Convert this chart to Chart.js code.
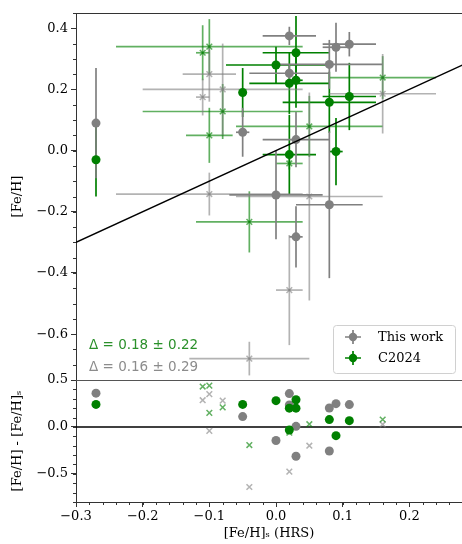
<!DOCTYPE html>
<html>
<head>
<meta charset="utf-8">
<script src="https://cdn.jsdelivr.net/npm/chart.js@4.4.1/dist/chart.umd.min.js"></script>
<style>
  html, body { margin: 0; padding: 0; background: #fff; }
  #wrap { position: relative; width: 462px; height: 544px; }
  canvas { position: absolute; left: 0; top: 0; }
</style>
</head>
<body>
<div id="wrap">
  <canvas id="mainChart" width="462" height="544"></canvas>
  <canvas id="resChart" width="462" height="544"></canvas>
</div>
<script>
// tick labels
const xTickVals = [-0.3, -0.2, -0.1, 0.0, 0.1, 0.2];
const yMainTickVals = [0.4, 0.2, 0.0, -0.2, -0.4, -0.6];
const yResTickVals = [0.5, 0.0, -0.5];

// This work, filled circles
const workX    = [-0.27, -0.05, 0.00, 0.02, 0.02, 0.03, 0.03, 0.08, 0.08, 0.09, 0.11];
const workY    = [0.09, 0.06, -0.145, 0.375, 0.253, 0.036, -0.282, 0.282, -0.177, 0.338, 0.348];
const workXerr = [0, 0.01, 0.07, 0.04, 0.06, 0.05, 0.01, 0.08, 0.05, 0.02, 0.04];
const workYerr = [0.18, 0.08, 0.145, 0.03, 0.03, 0.09, 0.10, 0.08, 0.24, 0.08, 0.04];

// C2024, filled circles
const c24X    = [-0.27, -0.05, 0.00, 0.03, 0.02, 0.03, 0.08, 0.11, 0.09, 0.02];
const c24Y    = [-0.03, 0.19, 0.28, 0.32, 0.22, 0.23, 0.158, 0.177, -0.003, -0.013];
const c24Xerr = [0, 0.005, 0.075, 0.05, 0.06, 0.01, 0.07, 0.04, 0.01, 0.04];
const c24Yerr = [0.12, 0.08, 0.06, 0.12, 0.10, 0.09, 0.10, 0.11, 0.11, 0.13];

// This work, crosses (faint)
const workAltX    = [-0.10, -0.08, -0.11, -0.10, -0.04, 0.05, 0.02, 0.16];
const workAltY    = [0.25, 0.20, 0.175, -0.142, -0.68, -0.15, -0.456, 0.186];
const workAltXerr = [0.04, 0.12, 0.01, 0.14, 0.09, 0.11, 0.02, 0.08];
const workAltYerr = [0.09, 0.15, 0.06, 0.07, 0.055, 0.34, 0.18, 0.13];

// C2024, crosses (faint)
const c24AltX    = [-0.11, -0.10, -0.08, -0.10, -0.04, 0.16, 0.05, 0.02];
const c24AltY    = [0.32, 0.34, 0.128, 0.05, -0.233, 0.239, 0.079, -0.042];
const c24AltXerr = [0.01, 0.14, 0.12, 0.035, 0.08, 0.08, 0.11, 0.02];
const c24AltYerr = [0.09, 0.09, 0.09, 0.09, 0.10, 0.07, 0.10, 0.02];

const deltaC24 = "\u0394 = 0.18 \u00b1 0.22";
const deltaWork = "\u0394 = 0.16 \u00b1 0.29";
const legendNames = ["This work", "C2024"];

const X_MIN = -0.3, X_MAX = 0.279;

const gray = "#808080";
const green = "#008000";
const grayLight = "rgba(128,128,128,0.6)";
const greenLight = "rgba(0,128,0,0.62)";
const axisColor = "#333";

Chart.defaults.font.family = "'DejaVu Serif', serif";
Chart.defaults.font.size = 13;
Chart.defaults.color = "#000";

function fmt(v) {
    const s = Math.abs(v).toFixed(1);
    return (v < -1e-9 ? "\u2212" : "") + s;
}

function points(xs, ys) {
    return xs.map((x, i) => ({ x: x, y: ys[i] }));
}

function segment(data, color) {
    return {
        data: data,
        showLine: true,
        borderColor: color,
        borderWidth: 1.7,
        pointRadius: 0,
        order: 10
    };
}

function errorBars(xs, ys, xe, ye, color) {
    const sets = [];
    xs.forEach((x, i) => {
        if (xe[i] > 0) sets.push(segment([{ x: x - xe[i], y: ys[i] }, { x: x + xe[i], y: ys[i] }], color));
        if (ye[i] > 0) sets.push(segment([{ x: x, y: ys[i] - ye[i] }, { x: x, y: ys[i] + ye[i] }], color));
    });
    return sets;
}

function markers(xs, ys, style, color, order) {
    const round = style === "circle";
    return {
        data: points(xs, ys),
        pointStyle: style,
        pointRadius: round ? 4.5 : 4,
        backgroundColor: color,
        borderColor: color,
        borderWidth: round ? 0 : 1.5,
        showLine: false,
        order: order
    };
}

// minor tick marks along an axis
function minorTicks(chart, id, step, len) {
    const scale = chart.scales[id];
    const ctx = chart.ctx;
    const a = chart.chartArea;
    ctx.save();
    ctx.strokeStyle = axisColor;
    ctx.lineWidth = 1;
    const n = Math.round((scale.max - scale.min) / step) + 1;
    const start = Math.ceil(scale.min / step - 1e-6);
    for (let i = start; i < start + n; i++) {
        const v = i * step;
        if (v < scale.min - 1e-9 || v > scale.max + 1e-9) continue;
        const p = Math.round(scale.getPixelForValue(v)) + 0.5;
        ctx.beginPath();
        if (scale.isHorizontal()) {
            ctx.moveTo(p, a.bottom);
            ctx.lineTo(p, a.bottom + len);
        } else {
            ctx.moveTo(a.left, p);
            ctx.lineTo(a.left - len, p);
        }
        ctx.stroke();
    }
    ctx.restore();
}

function hLine(ctx, x1, x2, y) {
    ctx.beginPath();
    ctx.moveTo(x1, Math.round(y) + 0.5);
    ctx.lineTo(x2, Math.round(y) + 0.5);
    ctx.stroke();
}

const mainDecor = {
    id: "mainDecor",
    afterDraw(chart) {
        const ctx = chart.ctx;
        const a = chart.chartArea;
        minorTicks(chart, "y", 0.05, 3);
        ctx.save();
        ctx.strokeStyle = axisColor;
        ctx.lineWidth = 1;
        hLine(ctx, a.left, a.right, a.top);

        // delta annotations
        ctx.font = "13.5px 'DejaVu Sans'";
        ctx.textBaseline = "middle";
        ctx.textAlign = "left";
        ctx.fillStyle = "#2a902a";
        ctx.fillText(deltaC24, 89, 345);
        ctx.fillStyle = "#8c8c8c";
        ctx.fillText(deltaWork, 89, 367);

        // legend box
        const bx = 333, by = 325, bw = 122, bh = 48;
        ctx.fillStyle = "rgba(255,255,255,0.85)";
        ctx.strokeStyle = "#d0d0d0";
        ctx.beginPath();
        ctx.roundRect(bx + 0.5, by + 0.5, bw, bh, 3);
        ctx.fill();
        ctx.stroke();
        const cols = [gray, green];
        legendNames.forEach((name, i) => {
            const cy = by + 12 + i * 21;
            const cx = bx + 20;
            ctx.strokeStyle = cols[i];
            ctx.fillStyle = cols[i];
            ctx.lineWidth = 1.7;
            ctx.beginPath();
            ctx.moveTo(cx - 8, cy); ctx.lineTo(cx + 8, cy);
            ctx.moveTo(cx, cy - 7); ctx.lineTo(cx, cy + 7);
            ctx.stroke();
            ctx.beginPath();
            ctx.arc(cx, cy, 4.2, 0, Math.PI * 2);
            ctx.fill();
            ctx.fillStyle = "#000";
            ctx.font = "13px 'DejaVu Serif'";
            ctx.fillText(name, bx + 45, cy + 1);
        });
        ctx.restore();
    }
};

const resDecor = {
    id: "resDecor",
    afterDraw(chart) {
        const ctx = chart.ctx;
        const a = chart.chartArea;
        minorTicks(chart, "y", 0.1, 3);
        minorTicks(chart, "x", 0.02, 3);
        ctx.save();
        ctx.strokeStyle = "#555";
        ctx.lineWidth = 1;
        hLine(ctx, a.left, a.right, a.top);
        ctx.restore();
    }
};

function yAxis(min, max, tickVals, title) {
    return {
        type: "linear",
        position: "left",
        min: min,
        max: max,
        afterFit: s => { s.width = 76; },
        afterBuildTicks: s => { s.ticks = tickVals.map(v => ({ value: v })); },
        grid: { drawOnChartArea: false, tickLength: 5, tickColor: axisColor },
        border: { color: axisColor, width: 1 },
        ticks: { padding: 3, callback: v => fmt(v) },
        title: { display: true, text: title, padding: { top: 10, bottom: 0 } }
    };
}

const baseOptions = {
    responsive: false,
    devicePixelRatio: 1,
    animation: false,
    events: [],
    plugins: { legend: { display: false }, tooltip: { enabled: false } }
};

// main panel
const mainSets = [
    {
        data: [{ x: -0.3, y: -0.3 }, { x: 0.3, y: 0.3 }],
        showLine: true, borderColor: "#000", borderWidth: 1.5, pointRadius: 0, order: 0
    },
    ...errorBars(workX, workY, workXerr, workYerr, gray),
    ...errorBars(workAltX, workAltY, workAltXerr, workAltYerr, grayLight),
    ...errorBars(c24X, c24Y, c24Xerr, c24Yerr, green),
    ...errorBars(c24AltX, c24AltY, c24AltXerr, c24AltYerr, greenLight),
    markers(workX, workY, "circle", gray, 4),
    markers(workAltX, workAltY, "crossRot", grayLight, 3),
    markers(c24X, c24Y, "circle", green, 2),
    markers(c24AltX, c24AltY, "crossRot", greenLight, 1)
];

new Chart(document.getElementById("mainChart"), {
    type: "scatter",
    data: { datasets: mainSets },
    options: {
        ...baseOptions,
        layout: { autoPadding: false, padding: { top: 13, left: 0, right: 0, bottom: 164 } },
        scales: {
            x: { type: "linear", min: X_MIN, max: X_MAX, display: false },
            y: yAxis(-0.75, 0.45, yMainTickVals, "[Fe/H]")
        }
    },
    plugins: [mainDecor]
});

// residual panel
const resid = (xs, ys) => ys.map((y, i) => y - xs[i]);

const resSets = [
    {
        data: [{ x: -0.3, y: 0 }, { x: 0.3, y: 0 }],
        showLine: true, borderColor: "#000", borderWidth: 1.5, pointRadius: 0, order: 5
    },
    markers(workX, resid(workX, workY), "circle", gray, 4),
    markers(workAltX, resid(workAltX, workAltY), "crossRot", grayLight, 3),
    markers(c24X, resid(c24X, c24Y), "circle", green, 2),
    markers(c24AltX, resid(c24AltX, c24AltY), "crossRot", greenLight, 1)
];

new Chart(document.getElementById("resChart"), {
    type: "scatter",
    data: { datasets: resSets },
    options: {
        ...baseOptions,
        layout: { autoPadding: false, padding: { top: 380, left: 0, right: 0, bottom: 0 } },
        scales: {
            x: {
                type: "linear",
                min: X_MIN,
                max: X_MAX,
                afterFit: s => { s.height = 42; },
                afterBuildTicks: s => { s.ticks = xTickVals.map(v => ({ value: v })); },
                grid: { drawOnChartArea: false, tickLength: 5, tickColor: axisColor },
                border: { color: axisColor, width: 1 },
                ticks: { padding: 2, maxRotation: 0, callback: v => fmt(v) },
                title: { display: true, text: "[Fe/H]\u209b (HRS)", padding: { top: 0, bottom: 3 } }
            },
            y: yAxis(-0.8, 0.5, yResTickVals, "[Fe/H] - [Fe/H]\u209b")
        }
    },
    plugins: [resDecor]
});
</script>
</body>
</html>
